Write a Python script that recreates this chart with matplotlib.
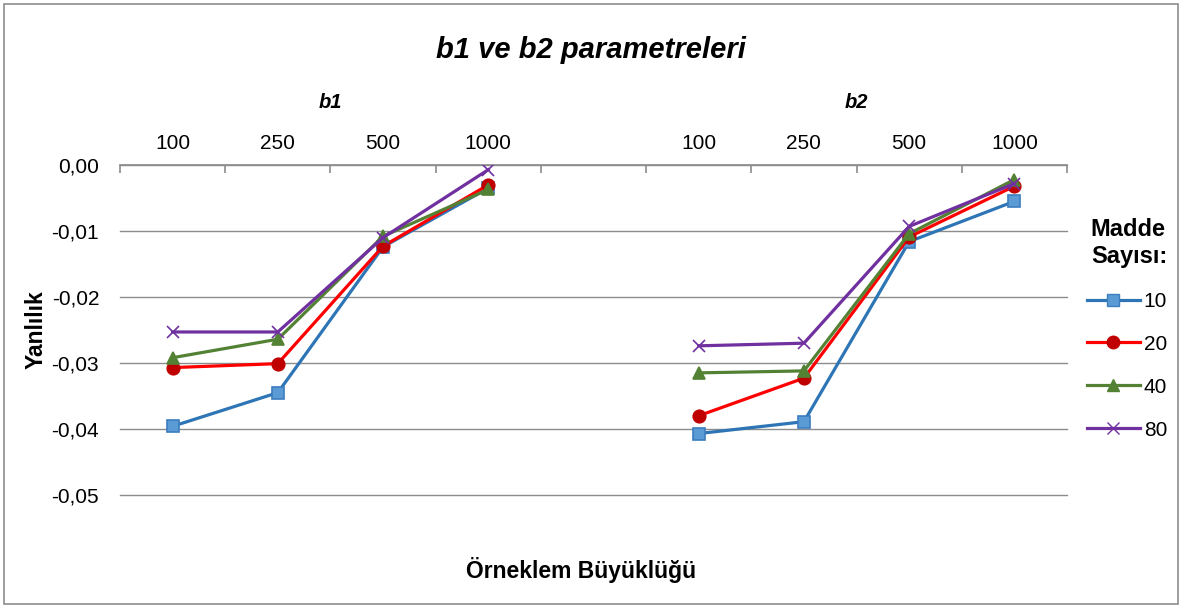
import matplotlib.pyplot as plt
from matplotlib.patches import Rectangle
from matplotlib.lines import Line2D

plt.rcParams['font.family'] = ['Liberation Sans', 'DejaVu Sans']

# data
sizes = ['100', '250', '500', '1000']
groups = ['b1', 'b2']
series = ['10', '20', '40', '80']
b1_10 = [-0.0396, -0.0345, -0.0124, -0.0035]
b1_20 = [-0.0307, -0.0301, -0.0123, -0.0030]
b1_40 = [-0.0292, -0.0264, -0.0108, -0.0037]
b1_80 = [-0.0253, -0.0253, -0.0110, -0.0007]
b2_10 = [-0.0407, -0.0389, -0.0116, -0.0055]
b2_20 = [-0.0380, -0.0323, -0.0109, -0.0032]
b2_40 = [-0.0315, -0.0312, -0.0104, -0.0022]
b2_80 = [-0.0274, -0.0270, -0.0093, -0.0028]
yticks = [0, -0.01, -0.02, -0.03, -0.04, -0.05]

b1 = [b1_10, b1_20, b1_40, b1_80]
b2 = [b2_10, b2_20, b2_40, b2_80]
colors = ['#2E75B6', '#FF0000', '#548235', '#7030A0']
mfaces = ['#5B9BD5', '#C00000', '#548235', '#7030A0']
medges = ['#3B7DBF', '#C00000', '#548235', '#7030A0']
markers = ['s', 'o', '^', 'x']
msizes = [8, 9, 9, 9]

fig = plt.figure(figsize=(11.82, 6.08), dpi=100)
ax = fig.add_axes([0.1015, 0.186, 0.8012, 0.5425])

x1 = list(range(0, 4))
x2 = list(range(5, 9))
for i in range(4):
    for xs, ys in [(x1, b1[i]), (x2, b2[i])]:
        ax.plot(xs, ys, color=colors[i], lw=2.3, marker=markers[i], ms=msizes[i],
                mfc=mfaces[i], mec=medges[i], mew=1.2, zorder=3 + i)

ax.set_xlim(-0.5, 8.5)
ax.set_ylim(-0.05, 0)
ax.set_yticks(yticks)
ax.set_yticklabels(['0,00', '-0,01', '-0,02', '-0,03', '-0,04', '-0,05'], fontsize=15)
ax.tick_params(axis='y', length=0, pad=15)
ax.grid(axis='y', color='#8C8C8C', lw=1)
for gl in ax.get_ygridlines():
    gl.set_clip_on(False)
ax.set_axisbelow(True)
for s in ['left', 'right', 'bottom']:
    ax.spines[s].set_visible(False)
ax.spines['top'].set_color('#8C8C8C')
ax.spines['top'].set_linewidth(1.2)

# x axis on top with category boundaries as ticks
ax.xaxis.tick_top()
ax.set_xticks([k - 0.5 for k in range(10)])
ax.set_xticklabels([])
ax.tick_params(axis='x', direction='in', length=6, color='#8C8C8C', width=1.2)
for xs in [x1, x2]:
    for xi, lab in zip(xs, sizes):
        ax.text(xi, 1.065, lab, transform=ax.get_xaxis_transform(), ha='center',
                va='center', fontsize=15)
for xs, g in zip([x1, x2], groups):
    ax.text(sum(xs) / 4, 1.19, g, transform=ax.get_xaxis_transform(), ha='center',
            va='center', fontsize=14.5, fontweight='bold', fontstyle='italic')

ax.set_ylabel('Yanlılık', fontsize=16.5, fontweight='bold', labelpad=3)
fig.text(0.5, 0.918, 'b1 ve b2 parametreleri', ha='center', va='center',
         fontsize=21, fontweight='bold', fontstyle='italic')
fig.text(0.492, 0.062, 'Örneklem Büyüklüğü', ha='center', va='center',
         fontsize=16.5, fontweight='bold')

handles = [Line2D([], [], color=colors[i], lw=2.3, marker=markers[i], ms=msizes[i],
                  mfc=mfaces[i], mec=medges[i])
           for i in range(4)]
leg = fig.legend(handles, series, loc='upper left', bbox_to_anchor=(0.920, 0.641),
                 frameon=False, fontsize=15, title='Madde\nSayısı:',
                 handlelength=2.5, handletextpad=0.2, labelspacing=1.15,
                 borderaxespad=0, borderpad=0)
leg.get_title().set_fontweight('bold')
leg.get_title().set_fontsize(17)
leg.get_title().set_linespacing(1.2)
leg._legend_box.align = 'right'

fig.patches.append(Rectangle((0.003, 0.006), 0.994, 0.988, transform=fig.transFigure,
                             fill=False, edgecolor='#8C8C8C', lw=1.2))

fig.savefig('out.png', dpi=100)
